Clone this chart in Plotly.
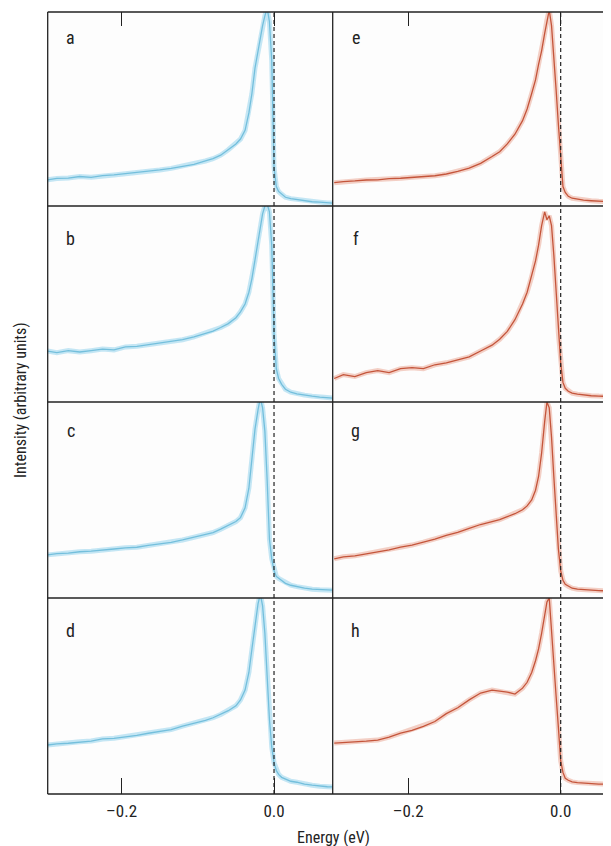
import plotly.graph_objects as go
from plotly.subplots import make_subplots

# ---------------- data ----------------
energy = [-0.297, -0.285, -0.27, -0.255, -0.24, -0.225, -0.21, -0.195, -0.18, -0.165,
          -0.15, -0.135, -0.12, -0.105, -0.09, -0.08, -0.07, -0.06, -0.05, -0.044,
          -0.038, -0.033, -0.029, -0.025, -0.021, -0.018, -0.015, -0.012, -0.009, -0.006,
          -0.003, 0.0, 0.003, 0.006, 0.01, 0.015, 0.022, 0.03, 0.04, 0.05,
          0.06, 0.07, 0.077]

panel_a = [0.135, 0.142, 0.144, 0.152, 0.148, 0.157, 0.16, 0.166, 0.171, 0.18,
           0.186, 0.194, 0.206, 0.214, 0.232, 0.244, 0.262, 0.29, 0.32, 0.345,
           0.39, 0.48, 0.58, 0.71, 0.8, 0.87, 0.93, 0.98, 1.02, 0.95,
           0.75, 0.2, 0.1, 0.075, 0.06, 0.045, 0.038, 0.033, 0.028, 0.022,
           0.02, 0.016, 0.015]
panel_b = [0.26, 0.252, 0.262, 0.255, 0.262, 0.27, 0.266, 0.281, 0.284, 0.292,
           0.3, 0.307, 0.318, 0.332, 0.35, 0.362, 0.38, 0.4, 0.43, 0.46,
           0.5, 0.56, 0.63, 0.72, 0.82, 0.9, 0.96, 1.0, 1.01, 0.97,
           0.8, 0.35, 0.17, 0.12, 0.09, 0.065, 0.05, 0.042, 0.035, 0.03,
           0.025, 0.02, 0.02]
panel_c = [0.22, 0.226, 0.229, 0.236, 0.239, 0.246, 0.25, 0.256, 0.259, 0.268,
           0.276, 0.284, 0.296, 0.31, 0.325, 0.334, 0.351, 0.37, 0.39, 0.41,
           0.46, 0.56, 0.72, 0.86, 0.96, 1.02, 0.97, 0.85, 0.6, 0.3,
           0.2, 0.14, 0.11, 0.1, 0.09, 0.075, 0.065, 0.058, 0.05, 0.045,
           0.042, 0.04, 0.04]
panel_d = [0.25, 0.256, 0.259, 0.266, 0.27, 0.281, 0.284, 0.292, 0.299, 0.31,
           0.321, 0.329, 0.346, 0.36, 0.376, 0.389, 0.406, 0.425, 0.45, 0.48,
           0.53, 0.62, 0.74, 0.87, 0.97, 1.02, 0.96, 0.82, 0.6, 0.38,
           0.24, 0.16, 0.12, 0.1, 0.085, 0.075, 0.065, 0.06, 0.05, 0.045,
           0.04, 0.037, 0.036]
panel_e = [0.12, 0.126, 0.129, 0.134, 0.135, 0.141, 0.143, 0.148, 0.15, 0.156,
           0.165, 0.178, 0.195, 0.22, 0.255, 0.28, 0.32, 0.37, 0.44, 0.5,
           0.58, 0.65, 0.73, 0.8, 0.89, 0.96, 1.01, 0.93, 0.78, 0.6,
           0.42, 0.25, 0.1, 0.07, 0.05, 0.04, 0.035, 0.03, 0.027, 0.024,
           0.02, 0.02, 0.02]
panel_f = [0.12, 0.14, 0.13, 0.15, 0.16, 0.15, 0.17, 0.175, 0.17, 0.19,
           0.2, 0.215, 0.23, 0.26, 0.29, 0.32, 0.36, 0.42, 0.5, 0.56,
           0.64, 0.72, 0.8, 0.9, 0.97, 0.93, 0.95, 0.9, 0.75, 0.55,
           0.35, 0.2, 0.1, 0.07, 0.055, 0.045, 0.04, 0.035, 0.032, 0.03,
           0.028, 0.027, 0.027]
panel_g = [0.2, 0.21, 0.215, 0.225, 0.235, 0.245, 0.26, 0.27, 0.285, 0.3,
           0.32, 0.335, 0.355, 0.375, 0.39, 0.4, 0.415, 0.43, 0.45, 0.47,
           0.5, 0.55, 0.62, 0.74, 0.9, 1.0, 0.97, 0.82, 0.62, 0.42,
           0.25, 0.14, 0.09, 0.07, 0.06, 0.05, 0.045, 0.042, 0.04, 0.038,
           0.036, 0.035, 0.035]
panel_h = [0.26, 0.262, 0.265, 0.27, 0.275, 0.29, 0.31, 0.325, 0.345, 0.37,
           0.41, 0.44, 0.48, 0.515, 0.53, 0.525, 0.52, 0.51, 0.54, 0.57,
           0.62, 0.68, 0.74, 0.82, 0.92, 0.98, 1.0, 0.82, 0.64, 0.5,
           0.34, 0.17, 0.11, 0.08, 0.07, 0.062, 0.058, 0.055, 0.053, 0.05,
           0.05, 0.05, 0.05]

panel_labels = ["a", "b", "c", "d", "e", "f", "g", "h"]
left_series = [panel_a, panel_b, panel_c, panel_d]
right_series = [panel_e, panel_f, panel_g, panel_h]
tick_values = [-0.2, 0.0]
tick_labels = ["\u20130.2", "0.0"]

# ---------------- layout geometry (window px) ----------------
# the page body keeps an 8 px margin, so the figure is 8 px smaller and
# every window coordinate is shifted by that margin
PAGE_MARGIN = 8
W, H = 611 - PAGE_MARGIN, 846 - PAGE_MARGIN
x_left, x_mid = 47.7, 332.7
row_edges = [12, 206, 402, 598, 794]
label_offsets = [26, 32, 28, 32]

def px_x(v):
    return (v - PAGE_MARGIN) / W

def px_y(v):
    return 1 - (v - PAGE_MARGIN) / H

FONT = "Liberation Sans Narrow, Roboto Condensed, Arial Narrow, Liberation Sans, sans-serif"
INK = "#222222"

fig = make_subplots(rows=4, cols=2, horizontal_spacing=0, vertical_spacing=0)

blue_halo = "rgba(150,212,236,0.55)"
blue_core = "#74bfdc"
red_halo = "rgba(230,150,128,0.45)"
red_core = "#c4553b"

for r in range(4):
    for c, (series, halo, core) in enumerate([(left_series, blue_halo, blue_core),
                                              (right_series, red_halo, red_core)]):
        fig.add_trace(go.Scatter(x=energy, y=series[r][:], mode="lines",
                                 line=dict(color=halo, width=5), hoverinfo="skip",
                                 showlegend=False), row=r + 1, col=c + 1)
        fig.add_trace(go.Scatter(x=energy, y=series[r][:], mode="lines",
                                 line=dict(color=core, width=1.3),
                                 showlegend=False), row=r + 1, col=c + 1)

x_ranges = [[-0.297, 0.077], [-0.299, 0.066]]
x_domains = [[px_x(x_left), px_x(x_mid)], [px_x(x_mid), 1.0]]

for r in range(4):
    ydom = [px_y(row_edges[r + 1]), px_y(row_edges[r])]
    for c in range(2):
        xa = dict(domain=x_domains[c], range=x_ranges[c], showgrid=False, zeroline=False,
                  showline=False, tickvals=tick_values, ticktext=tick_labels,
                  tickcolor=INK, tickwidth=1.3,
                  tickfont=dict(family=FONT, size=17, color=INK))
        if r == 0:
            xa.update(side="top", ticks="inside", ticklen=14, showticklabels=False)
        elif r == 3:
            xa.update(side="bottom", ticks="inside", ticklen=16, showticklabels=True,
                      ticklabelstandoff=5)
        else:
            xa.update(ticks="", showticklabels=False)
        fig.update_xaxes(**xa, row=r + 1, col=c + 1)
        fig.update_yaxes(domain=ydom, range=[0, 1.0], showgrid=False, zeroline=False,
                         showline=False, showticklabels=False, ticks="",
                         row=r + 1, col=c + 1)
        idx = r * 2 + c + 1
        xr = "x" if idx == 1 else f"x{idx}"
        yr = "y domain" if idx == 1 else f"y{idx} domain"
        fig.add_shape(type="line", xref=xr, yref=yr, x0=0, x1=0, y0=0, y1=1,
                      line=dict(color=INK, width=1.2, dash="4px,3px"), layer="above")
        lbl = panel_labels[c * 4 + r]
        lx = x_left + 23 if c == 0 else x_mid + 23
        fig.add_annotation(x=px_x(lx), y=px_y(row_edges[r] + label_offsets[r]),
                           xref="paper", yref="paper", text=lbl, showarrow=False,
                           xanchor="center", yanchor="middle",
                           font=dict(family=FONT, size=18, color=INK))

frame = dict(color=INK, width=1.3)
fig.add_shape(type="line", xref="paper", yref="paper", x0=px_x(x_left), x1=px_x(x_left),
              y0=px_y(row_edges[0]), y1=px_y(row_edges[-1]), line=frame)
fig.add_shape(type="line", xref="paper", yref="paper", x0=px_x(x_mid), x1=px_x(x_mid),
              y0=px_y(row_edges[0]), y1=px_y(row_edges[-1]), line=frame)
for yy in row_edges:
    fig.add_shape(type="line", xref="paper", yref="paper", x0=px_x(x_left), x1=1.0,
                  y0=px_y(yy), y1=px_y(yy), line=frame)

fig.add_annotation(x=px_x(333), y=px_y(837), xref="paper", yref="paper",
                   text="Energy (eV)", showarrow=False, xanchor="center", yanchor="middle",
                   font=dict(family=FONT, size=16, color=INK))
fig.add_annotation(x=px_x(21), y=px_y(400), xref="paper", yref="paper",
                   text="Intensity (arbitrary units)", showarrow=False, textangle=-90,
                   xanchor="center", yanchor="middle",
                   font=dict(family=FONT, size=16, color=INK))

fig.update_layout(width=W, height=H, margin=dict(l=0, r=0, t=0, b=0),
                  paper_bgcolor="white", plot_bgcolor="#fdfdfd", showlegend=False)

fig.write_html("out.html")
